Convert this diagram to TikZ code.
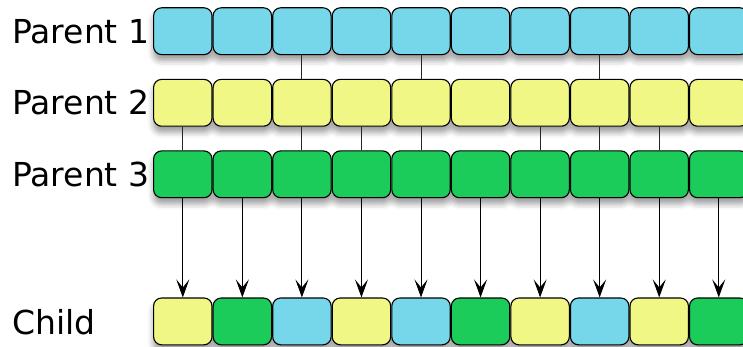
\documentclass[tikz,border=0pt]{standalone}
\usepackage{fontspec}
\setmainfont{DejaVu Sans}
\usetikzlibrary{arrows.meta,shadows.blur}

\definecolor{geneblue}{RGB}{118,215,234}
\definecolor{geneyellow}{RGB}{240,247,132}
\definecolor{genegreen}{RGB}{27,204,90}

\begin{document}
\begin{tikzpicture}[x=1pt, y=-1pt,
    gene/.style={draw, rounded corners=8pt, line width=1.1pt, minimum width=58.4pt,
      minimum height=46.8pt, inner sep=0pt},
    geneshade/.style={gene, draw=none, fill=white,
      blur shadow={shadow xshift=0pt, shadow yshift=-6pt, shadow blur radius=6pt, shadow opacity=40}},
    lbl/.style={anchor=base west, inner sep=0pt, font=\fontsize{33}{38}\selectfont},
    link/.style={line width=0.9pt, black!85},
    arr/.style={-{Stealth[length=18pt, width=13pt, inset=8pt]}, line width=0.9pt}
  ]
    \useasboundingbox (0,0) rectangle (743,347);
    \clip (0,0) rectangle (743,347);

    % Row labels
    \node[lbl] (lpa) at (12, 43.3) {Parent 1};
    \node[lbl] (lpb) at (12,115.0) {Parent 2};
    \node[lbl] (lpc) at (12,186.6) {Parent 3};
    \node[lbl] (lch) at (12,334.3) {Child};

    % Shadows first, so no box shades its neighbour
    \foreach \y in {31.2,102.8,174.3,321.4}
      \foreach \i in {1,...,10}
        \node[geneshade] at ({182.8+59.55*(\i-1)}, \y) {};

    % Parent chromosomes
    \foreach \i in {1,...,10}
      \node[gene, fill=geneblue] (pa\i) at ({182.8+59.55*(\i-1)}, 31.2) {};
    \foreach \i in {1,...,10}
      \node[gene, fill=geneyellow] (pb\i) at ({182.8+59.55*(\i-1)}, 102.8) {};
    \foreach \i in {1,...,10}
      \node[gene, fill=genegreen] (pc\i) at ({182.8+59.55*(\i-1)}, 174.3) {};

    % Child chromosome
    \foreach \i/\c in {1/geneyellow, 2/genegreen, 3/geneblue, 4/geneyellow, 5/geneblue,
                       6/genegreen, 7/geneyellow, 8/geneblue, 9/geneyellow, 10/genegreen}
      \node[gene, fill=\c] (ch\i) at ({182.8+59.55*(\i-1)}, 321.4) {};

    % Genes passed down through the parents
    \foreach \i in {3,5,8}
      \draw[link] (pa\i) -- (pb\i);
    \foreach \i in {1,3,4,5,7,8,9}
      \draw[link] (pb\i) -- (pc\i);

    % Into the child
    \foreach \i in {1,...,10}
      \draw[arr] (pc\i) -- (ch\i);
  \end{tikzpicture}
\end{document}
